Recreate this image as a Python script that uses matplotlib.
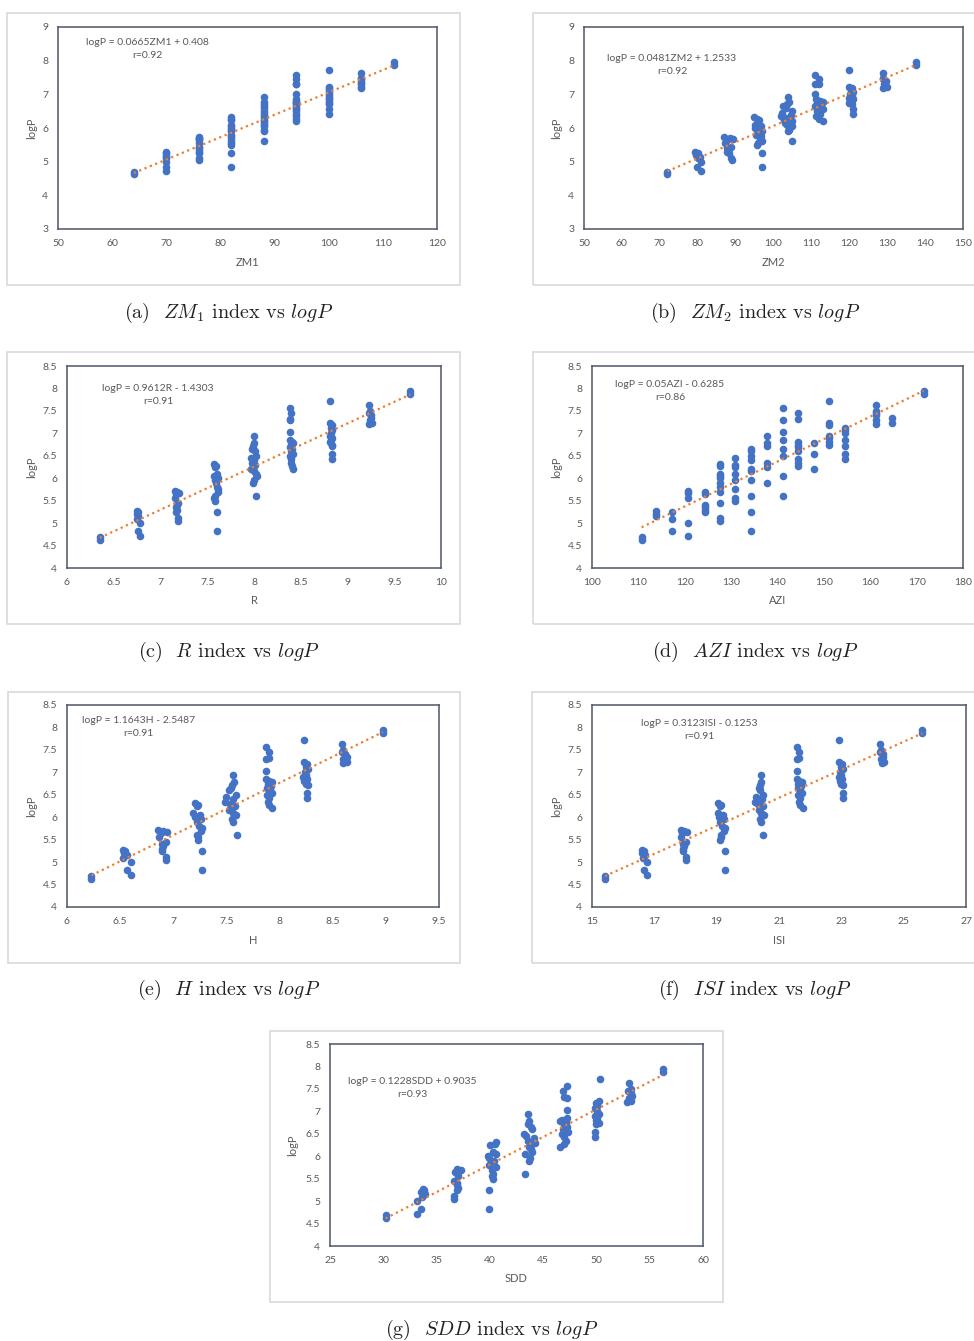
import matplotlib
matplotlib.use("Agg")
import matplotlib.pyplot as plt
from matplotlib.patches import Rectangle
from matplotlib.ticker import MultipleLocator, FuncFormatter

# logP of the compounds, grouped by size (same order in every index list)
logp = [
    4.63, 4.68,
    5.28, 5.25, 5.20, 5.15, 5.10, 5.00, 4.83, 4.72,
    5.72, 5.70, 5.68, 5.65, 5.55, 5.45, 5.40, 5.35, 5.30, 5.25, 5.12, 5.05,
    6.32, 6.28, 6.25, 6.10, 6.05, 6.00, 5.95, 5.90, 5.80, 5.75, 5.70, 5.60, 5.55, 5.50, 5.25, 4.83,
    6.93, 6.78, 6.72, 6.65, 6.60, 6.50, 6.45, 6.40, 6.35, 6.30, 6.25, 6.20, 6.15, 6.10, 6.05, 5.95, 5.90, 5.60,
    7.57, 7.45, 7.32, 7.30, 7.02, 6.85, 6.80, 6.78, 6.75, 6.70, 6.65, 6.60, 6.55, 6.50, 6.42, 6.35, 6.28, 6.20,
    7.73, 7.22, 7.18, 7.12, 7.08, 7.00, 6.95, 6.90, 6.85, 6.80, 6.75, 6.72, 6.55, 6.42,
    7.63, 7.50, 7.45, 7.40, 7.35, 7.30, 7.22, 7.20,
    7.88, 7.95,
]

zm1 = [
    64, 64,
    70, 70, 70, 70, 70, 70, 70, 70,
    76, 76, 76, 76, 76, 76, 76, 76, 76, 76, 76, 76,
    82, 82, 82, 82, 82, 82, 82, 82, 82, 82, 82, 82, 82, 82, 82, 82,
    88, 88, 88, 88, 88, 88, 88, 88, 88, 88, 88, 88, 88, 88, 88, 88, 88, 88,
    94, 94, 94, 94, 94, 94, 94, 94, 94, 94, 94, 94, 94, 94, 94, 94, 94, 94,
    100, 100, 100, 100, 100, 100, 100, 100, 100, 100, 100, 100, 100, 100,
    106, 106, 106, 106, 106, 106, 106, 106,
    112, 112,
]

zm2 = [
    72, 72,
    79.3, 80.2, 79.5, 80.6, 80.0, 80.9, 79.8, 80.9,
    87.0, 88.5, 89.4, 87.6, 87.2, 88.8, 87.8, 88.0, 87.8, 88.2, 88.8, 89.0,
    94.8, 95.6, 96.2, 95.2, 96.6, 95.0, 96.0, 96.9, 95.4, 96.8, 96.5, 97.0, 95.8, 95.7, 96.9, 96.9,
    103.9, 104.0, 103.6, 102.6, 103.2, 105.0, 102.2, 104.6, 102.0, 103.4, 102.8, 104.8, 103.0, 103.6, 105.0, 104.2, 103.9, 105.0,
    110.9, 112.0, 112.0, 110.9, 111.0, 111.2, 112.2, 113.0, 111.6, 112.6, 110.9, 111.8, 113.0, 111.4, 112.4, 111.2, 112.0, 113.0,
    119.9, 120.0, 120.8, 120.4, 121.0, 120.2, 120.6, 119.9, 121.0, 120.3, 120.0, 120.7, 120.9, 120.9,
    128.8, 129.0, 128.9, 129.8, 129.5, 129.2, 130.0, 129.0,
    137.7, 137.7,
]

r_idx = [
    6.35, 6.35,
    6.75, 6.76, 6.75, 6.76, 6.75, 6.78, 6.76, 6.78,
    7.16, 7.18, 7.20, 7.17, 7.16, 7.19, 7.18, 7.17, 7.18, 7.17, 7.19, 7.19,
    7.57, 7.59, 7.58, 7.60, 7.57, 7.61, 7.58, 7.59, 7.60, 7.62, 7.61, 7.58, 7.57, 7.58, 7.60, 7.60,
    8.00, 8.00, 7.99, 7.98, 8.01, 8.02, 7.97, 8.00, 7.98, 8.01, 7.99, 7.97, 8.00, 8.02, 8.03, 8.00, 7.99, 8.02,
    8.38, 8.40, 8.39, 8.38, 8.38, 8.38, 8.41, 8.42, 8.40, 8.39, 8.41, 8.40, 8.42, 8.39, 8.40, 8.40, 8.41, 8.42,
    8.81, 8.81, 8.83, 8.82, 8.83, 8.82, 8.81, 8.83, 8.82, 8.81, 8.83, 8.83, 8.83, 8.83,
    9.23, 9.24, 9.23, 9.25, 9.25, 9.24, 9.26, 9.23,
    9.67, 9.67,
]

azi = [
    110.7, 110.7,
    113.9, 117.3, 113.9, 113.9, 117.3, 120.8, 117.3, 120.8,
    120.8, 124.3, 120.8, 124.3, 120.8, 127.5, 124.3, 124.3, 124.3, 124.3, 127.5, 127.5,
    127.5, 127.5, 130.8, 127.5, 127.5, 127.5, 130.8, 127.5, 127.5, 130.8, 127.5, 134.3, 130.8, 130.8, 134.3, 134.3,
    137.7, 137.7, 137.7, 134.3, 134.3, 134.3, 130.8, 134.3, 137.7, 130.8, 137.7, 134.3, 134.3, 130.8, 141.2, 134.3, 137.7, 141.2,
    141.2, 144.4, 144.4, 141.2, 141.2, 141.2, 144.4, 147.8, 144.4, 144.4, 141.2, 144.4, 147.8, 141.2, 144.4, 144.4, 144.4, 147.8,
    151.2, 151.2, 151.2, 154.6, 154.6, 154.6, 151.2, 151.2, 154.6, 151.2, 151.2, 154.6, 154.6, 154.6,
    161.2, 161.2, 161.2, 161.2, 164.7, 161.2, 164.7, 161.2,
    171.5, 171.5,
]

h_idx = [
    6.23, 6.23,
    6.53, 6.55, 6.54, 6.56, 6.53, 6.60, 6.56, 6.60,
    6.86, 6.90, 6.94, 6.88, 6.87, 6.93, 6.89, 6.90, 6.89, 6.89, 6.93, 6.93,
    7.20, 7.23, 7.22, 7.19, 7.25, 7.20, 7.26, 7.22, 7.24, 7.27, 7.26, 7.22, 7.23, 7.23, 7.27, 7.27,
    7.56, 7.57, 7.55, 7.54, 7.52, 7.59, 7.50, 7.56, 7.49, 7.53, 7.58, 7.55, 7.52, 7.56, 7.59, 7.55, 7.56, 7.60,
    7.87, 7.90, 7.90, 7.87, 7.87, 7.87, 7.90, 7.93, 7.89, 7.92, 7.88, 7.91, 7.93, 7.88, 7.90, 7.89, 7.90, 7.93,
    8.23, 8.23, 8.26, 8.25, 8.27, 8.24, 8.25, 8.22, 8.26, 8.23, 8.25, 8.27, 8.26, 8.26,
    8.59, 8.60, 8.59, 8.62, 8.63, 8.60, 8.63, 8.60,
    8.97, 8.97,
]

isi = [
    15.42, 15.42,
    16.60, 16.66, 16.62, 16.70, 16.65, 16.78, 16.67, 16.78,
    17.84, 17.95, 18.04, 17.88, 17.86, 18.02, 17.92, 17.95, 17.92, 17.93, 18.00, 18.00,
    19.05, 19.15, 19.12, 19.04, 19.20, 19.06, 19.22, 19.10, 19.18, 19.26, 19.22, 19.13, 19.14, 19.12, 19.27, 19.27,
    20.41, 20.43, 20.40, 20.36, 20.38, 20.50, 20.26, 20.45, 20.24, 20.33, 20.48, 20.40, 20.35, 20.42, 20.52, 20.40, 20.41, 20.50,
    21.57, 21.63, 21.63, 21.58, 21.57, 21.58, 21.65, 21.75, 21.62, 21.72, 21.60, 21.68, 21.75, 21.60, 21.66, 21.64, 21.66, 21.78,
    22.92, 22.93, 23.02, 22.98, 23.04, 22.95, 22.99, 22.94, 23.02, 22.96, 23.00, 23.04, 23.04, 23.04,
    24.24, 24.28, 24.25, 24.33, 24.35, 24.27, 24.36, 24.30,
    25.60, 25.60,
]

sdd = [
    30.22, 30.22,
    33.7, 33.8, 33.5, 33.9, 33.6, 33.2, 33.55, 33.2,
    36.9, 37.3, 37.1, 36.7, 37.0, 36.6, 36.9, 36.9, 37.0, 36.9, 36.6, 36.6,
    40.6, 40.5, 40.0, 40.3, 40.6, 39.85, 39.9, 40.4, 39.95, 40.6, 40.2, 40.3, 40.2, 40.3, 39.9, 39.9,
    43.6, 43.7, 43.6, 43.9, 44.0, 43.2, 43.4, 44.1, 43.6, 44.2, 43.8, 43.7, 43.9, 44.0, 43.3, 43.8, 43.7, 43.3,
    47.2, 46.9, 47.0, 47.2, 47.2, 47.2, 46.8, 46.6, 47.1, 47.0, 47.2, 46.9, 47.3, 46.8, 47.0, 47.1, 47.0, 46.6,
    50.3, 50.2, 50.0, 50.1, 49.9, 50.1, 50.2, 49.9, 50.1, 50.0, 50.2, 50.0, 49.9, 49.9,
    53.1, 53.2, 53.0, 53.2, 53.3, 53.1, 53.2, 52.9,
    56.27, 56.27,
]

# regression lines printed on the charts
slopes = [0.0665, 0.0481, 0.9612, 0.05, 1.1643, 0.3123, 0.1228]
intercepts = [0.408, 1.2533, -1.4303, -0.6285, -2.5487, -0.1253, 0.9035]
equations = ["logP = 0.0665ZM1 + 0.408\nr=0.92",
             "logP = 0.0481ZM2 + 1.2533\nr=0.92",
             "logP = 0.9612R - 1.4303\nr=0.91",
             "logP = 0.05AZI - 0.6285\nr=0.86",
             "logP = 1.1643H - 2.5487\nr=0.91",
             "logP = 0.3123ISI - 0.1253\nr=0.91",
             "logP = 0.1228SDD + 0.9035\nr=0.93"]
xlabels = ["ZM1", "ZM2", "R", "AZI", "H", "ISI", "SDD"]
captions = ["(a)  $ZM_1$ index vs $logP$", "(b)  $ZM_2$ index vs $logP$",
            "(c)  $R$ index vs $logP$", "(d)  $AZI$ index vs $logP$",
            "(e)  $H$ index vs $logP$", "(f)  $ISI$ index vs $logP$",
            "(g)  $SDD$ index vs $logP$"]

W, H = 974, 1341
plt.rcParams['mathtext.fontset'] = 'cm'
plt.rcParams['font.family'] = ['Lato', 'DejaVu Sans']
fig = plt.figure(figsize=(W / 100, H / 100), dpi=100)
fig.patch.set_facecolor('white')

GREY = '#595959'
BLUE = '#4472C4'
ORANGE = '#ED7D31'

# pixel layout: plot box, outer box, ylabel x, xlabel y, caption centre, equation pos, limits, step
panels = [
    dict(x=zm1, plot=(58, 27, 437, 229), box=(7, 13, 460, 285), ylx=32, xly=262, cap=(229, 313),
         eq=(0.237, 0.89), xlim=(50, 120, 10), ylim=(3, 9, 1)),
    dict(x=zm2, plot=(584, 27, 963, 229), box=(533, 13, 995, 285), ylx=557, xly=262, cap=(755, 313),
         eq=(0.232, 0.81), xlim=(50, 150, 10), ylim=(3, 9, 1)),
    dict(x=r_idx, plot=(67, 366, 441, 568), box=(7, 352, 460, 624), ylx=32, xly=601, cap=(229, 652),
         eq=(0.243, 0.858), xlim=(6, 10, 0.5), ylim=(4, 8.5, 0.5)),
    dict(x=azi, plot=(592, 366, 963, 568), box=(533, 352, 995, 624), ylx=557, xly=601, cap=(755, 652),
         eq=(0.21, 0.875), xlim=(100, 180, 10), ylim=(4, 8.5, 0.5)),
    dict(x=h_idx, plot=(67, 705, 439, 907), box=(8, 692, 460, 963), ylx=32, xly=940, cap=(229, 990),
         eq=(0.192, 0.89), xlim=(6, 9.5, 0.5), ylim=(4, 8.5, 0.5)),
    dict(x=isi, plot=(592, 705, 966, 907), box=(532, 692, 995, 963), ylx=557, xly=940, cap=(755, 990),
         eq=(0.288, 0.877), xlim=(15, 27, 2), ylim=(4, 8.5, 0.5)),
    dict(x=sdd, plot=(330, 1044, 703, 1246), box=(270, 1031, 723, 1302), ylx=293, xly=1279, cap=(492, 1330),
         eq=(0.22, 0.783), xlim=(25, 60, 5), ylim=(4, 8.5, 0.5)),
]

fmt = FuncFormatter(lambda v, p: '{:g}'.format(round(v, 2)))

for i, p in enumerate(panels):
    bl, bt, br, bb = p['box']
    fig.patches.append(Rectangle((bl / W, 1 - bb / H), (br - bl) / W, (bb - bt) / H,
                                 transform=fig.transFigure, fill=False,
                                 edgecolor='#d9d9d9', linewidth=1.2))
    l, t, r, b = p['plot']
    ax = fig.add_axes([l / W, 1 - b / H, (r - l) / W, (b - t) / H])
    xs = p['x']
    ax.scatter(xs, logp, s=30, color=BLUE, linewidths=0, zorder=3)
    x0, x1 = min(xs), max(xs)
    ax.plot([x0, x1], [slopes[i] * x0 + intercepts[i], slopes[i] * x1 + intercepts[i]],
            linestyle=(0, (1, 1.6)), color=ORANGE, linewidth=1.6, zorder=4)
    xmin, xmax, xstep = p['xlim']
    ax.set_xlim(xmin, xmax)
    ax.set_ylim(p['ylim'][0], p['ylim'][1])
    # ticks start at the axis minimum (matters for the ISI axis: 15, 17, ...)
    ax.xaxis.set_major_locator(MultipleLocator(xstep, offset=xmin % xstep))
    ax.yaxis.set_major_locator(MultipleLocator(p['ylim'][2]))
    ax.xaxis.set_major_formatter(fmt)
    ax.yaxis.set_major_formatter(fmt)
    ax.tick_params(length=0, labelsize=7.5, labelcolor=GREY, pad=7)
    for s in ax.spines.values():
        s.set_color('#4d5567')
        s.set_linewidth(1.1)
    ax.set_xlabel(xlabels[i], fontsize=8, color=GREY)
    ax.set_ylabel('logP', fontsize=8, color=GREY)
    ax.xaxis.set_label_coords(0.5, -(p['xly'] - b) / (b - t))
    ax.yaxis.set_label_coords(-(l - p['ylx']) / (r - l), 0.5)
    ax.xaxis.label.set_va('center')
    ax.yaxis.label.set_va('center')
    ax.text(p['eq'][0], p['eq'][1], equations[i], transform=ax.transAxes,
            ha='center', va='center', fontsize=7.5, color=GREY, linespacing=1.6)
    fig.text(p['cap'][0] / W, 1 - p['cap'][1] / H, captions[i], ha='center', va='center',
             fontsize=14.5, family='cmr10', color='#222222')

fig.savefig('out.png', dpi=100, facecolor='white')
